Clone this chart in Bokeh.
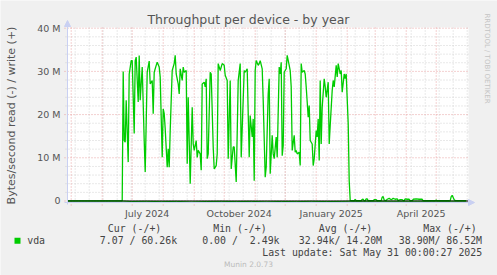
from datetime import date
import math
from bokeh.plotting import figure
from bokeh.models import FixedTicker, Label, Arrow, NormalHead, LinearAxis, Range1d
from bokeh.embed import file_html
from bokeh.resources import INLINE

# ---------------- data ----------------
BASE = date(2024, 5, 1)

write_days = [-4, 51,
    52, 53, 54, 55, 57, 58, 60, 61, 63, 64, 65, 67, 68, 69, 71, 73, 74, 76, 78, 79, 81, 82, 83, 85, 86, 88, 89,
    91, 92, 93, 94, 96, 97, 98, 99, 101, 103, 104, 105, 107, 108, 109, 111, 112, 113, 115, 116, 117, 119,
    121, 122, 123, 125, 126, 127, 129, 130, 131, 133, 134, 135, 136, 137, 139, 140, 142, 143, 145, 146, 147,
    149, 151, 153, 154, 156, 157, 159, 160, 162, 163, 165, 166, 167, 169,
    170, 173, 174, 176, 178, 179, 181, 182, 183, 184, 185, 187, 188, 189, 191, 192, 194, 195, 197, 198, 199,
    201, 202, 203, 205, 206, 208, 209, 210, 211, 212, 213, 215, 216, 218, 219, 220, 221, 223, 224, 225, 226,
    228, 229, 230, 231, 233, 234, 235, 237, 238, 239, 241, 242, 243, 245, 246, 247, 248, 249, 250, 251, 253,
    254, 255, 257, 258, 259, 261, 262, 263, 265, 266, 267, 269, 270, 271, 273, 274, 275, 277, 278, 279,
    283, 284, 285, 290, 291, 292, 293, 294, 295, 296, 297, 302, 303, 305, 306, 310, 311, 312, 313, 315, 316,
    318, 320, 322, 324, 326, 327, 329, 331, 332, 333, 334, 336, 338, 339, 341, 342, 345, 348, 351, 352,
    364, 365, 366, 378, 379, 380, 381, 382, 383, 384, 395]
write_mb = [0.02, 0.02,
    30.0, 14.0, 13.6, 23.3, 9.0, 29.4, 32.5, 32.5, 15.6, 32.5, 33.3, 22.9, 33.7, 23.3, 31.0, 14.0, 6.7, 29.8, 32.4, 27.1, 27.9, 20.2, 29.8, 31.4, 32.1, 31.0, 28.7,
    10.1, 21.3, 20.2, 16.7, 7.8, 12.1, 7.8, 16.3, 30.2, 31.8, 33.7, 29.4, 27.1, 24.8, 30.6, 27.9, 31.0, 29.8, 30.2, 8.6, 24.0, 4.0,
    21.7, 13.2, 11.7, 14.0, 10.1, 11.7, 10.9, 7.1, 27.1, 27.5, 26.4, 28.3, 9.8, 10.9, 29.8, 29.4, 12.5, 7.4, 8.2, 10.9, 31.8,
    30.2, 31.8, 31.4, 29.1, 27.9, 9.8, 27.9, 7.4, 12.5, 12.5, 4.4, 15.6, 27.9, 31.8,
    10.1, 30.2, 29.8, 30.6, 10.1, 19.8, 14.8, 19.0, 4.7, 30.2, 32.5, 31.4, 31.8, 32.5, 30.6, 23.3, 5.5, 7.8, 24.8, 28.3, 6.3,
    15.2, 10.9, 9.8, 14.8, 10.1, 31.0, 29.4, 32.1, 10.5, 12.8, 29.8, 30.6, 33.7, 31.4, 30.2, 26.4, 11.7, 15.2, 11.3, 11.7, 10.9,
    11.3, 8.2, 31.8, 29.8, 30.2, 29.4, 26.4, 19.4, 22.1, 14.0, 13.2, 8.2, 9.8, 16.3, 14.8, 19.0, 9.4, 27.9, 13.2, 21.7, 28.3,
    26.4, 24.0, 27.5, 13.2, 17.5, 25.6, 27.9, 26.4, 31.4, 28.7, 31.8, 29.4, 30.2, 25.2, 29.4, 28.3, 29.4, 17.9, 4.7, 0.1,
    0.05, 0.35, 0.05, 0.05, 0.35, 0.4, 0.05, 0.05, 0.5, 0.5, 0.05, 0.05, 0.3, 0.3, 0.05, 0.1, 0.9, 1.0, 0.2, 0.1, 0.4,
    0.6, 0.3, 0.6, 0.4, 0.5, 0.1, 0.3, 0.3, 0.1, 0.1, 0.5, 0.4, 0.4, 0.05, 0.05, 0.4, 0.5, 0.4, 0.4, 0.05,
    0.05, 0.2, 0.05, 0.05, 0.1, 1.0, 1.3, 0.8, 0.3, 0.1, 0.06]

read_days = [-4, 20, 51, 60, 75, 90, 105, 120, 135, 150, 165, 180, 195, 210, 225, 240, 255, 270, 279,
             300, 320, 340, 360, 380, 395]
read_mb = [0.0, 0.0, 0.01, 0.12, 0.08, 0.15, 0.1, 0.2, 0.12, 0.09, 0.14, 0.1, 0.18, 0.11, 0.15, 0.08,
           0.13, 0.1, 0.05, 0.04, 0.06, 0.05, 0.03, 0.04, 0.0]

month_starts = ["2024-05-01", "2024-06-01", "2024-07-01", "2024-08-01", "2024-09-01", "2024-10-01",
                "2024-11-01", "2024-12-01", "2025-01-01", "2025-02-01", "2025-03-01", "2025-04-01",
                "2025-05-01"]
label_months = ["2024-07-01", "2024-10-01", "2025-01-01", "2025-04-01"]
label_texts = ["July 2024", "October 2024", "January 2025", "April 2025"]

y_ticks = [0, 10, 20, 30, 40]
y_tick_labels = ["0", "10 M", "20 M", "30 M", "40 M"]

title_text = "Throughput per device - by year"
y_label_text = "Bytes/second read (-) / write (+)"
legend_headers = ["Cur (-/+)", "Min (-/+)", "Avg (-/+)", "Max (-/+)"]
series_name = "vda"
legend_values = ["7.07 / 60.26k", "0.00 /", "2.49k", "32.94k/ 14.20M", "38.90M/ 86.52M"]
last_update = "Last update: Sat May 31 00:00:27 2025"
munin_version = "Munin 2.0.73"
watermark = "RRDTOOL / TOBI OETIKER"

# ---------------- layout ----------------
W, H = 497, 275
FL, FR, FT, FB = 67, 468, 27, 202          # plot-area pixel box inside the canvas
X0, X1 = -3.7, 397.3                        # days since 2024-05-01 shown in the plot area
Y0, Y1 = -0.35, 40.16                       # MB/s shown in the plot area
SX = (X1 - X0) / (FR - FL)
SY = (Y1 - Y0) / (FB - FT)

def dx(px):
    return X0 + (px - FL) * SX

def dy(py):
    return Y0 + (FB - py) * SY

def dnum(s):
    return (date.fromisoformat(s) - BASE).days

GREEN = "#00CC00"
AXIS = "#C9D0F2"
MGRID = "#E8A2A2"
GRID = "#D2D2D2"
FONT_COLOR = "#555555"

p = figure(width=W, height=H, output_backend="svg", toolbar_location=None,
           x_range=Range1d(dx(0), dx(W)), y_range=Range1d(dy(H), dy(0)),
           x_axis_type=None, y_axis_type=None, min_border=0,
           min_border_left=0, min_border_right=0, min_border_top=0, min_border_bottom=0)
p.title.visible = False
p.background_fill_color = "#F0F0F0"
p.border_fill_color = "#F0F0F0"
p.outline_line_color = None

# white canvas (plot area)
p.quad(left=[X0], right=[X1], bottom=[Y0], top=[Y1], fill_color="#FFFFFF", line_color=None)

# grid lines
biweekly = list(range(dnum("2024-05-05"), int(X1) + 1, 14))
month_days = [dnum(s) for s in month_starts]
y_minor = [v for v in range(0, 41, 2) if v % 10 != 0]
p.segment(x0=biweekly, y0=[Y0] * len(biweekly), x1=biweekly, y1=[Y1] * len(biweekly),
          line_color=GRID, line_dash="1 2", line_width=1)
p.segment(x0=[dx(65)] * len(y_minor), y0=y_minor, x1=[X1] * len(y_minor), y1=y_minor,
          line_color=GRID, line_dash="1 2", line_width=1)
p.segment(x0=month_days, y0=[dy(205)] * len(month_days), x1=month_days, y1=[Y1] * len(month_days),
          line_color=MGRID, line_dash="1 2", line_width=1)
p.segment(x0=[dx(64)] * len(y_ticks), y0=y_ticks, x1=[X1] * len(y_ticks), y1=y_ticks,
          line_color=MGRID, line_dash="1 2", line_width=1)

# axes (fixed at the plot-area edges)
label_ticks = [dnum(s) + 15 for s in label_months]
xaxis = LinearAxis(fixed_location=Y0, bounds=(X0, X1),
                   ticker=FixedTicker(ticks=label_ticks),
                   major_label_overrides={t: l for t, l in zip(label_ticks, label_texts)},
                   axis_line_color=None, major_tick_line_color=None, minor_tick_line_color=None,
                   major_tick_out=0, major_tick_in=0, minor_tick_out=0, minor_tick_in=0,
                   major_label_standoff=5,
                   major_label_text_font="DejaVu Sans", major_label_text_font_size="9.5px",
                   major_label_text_color=FONT_COLOR)
p.add_layout(xaxis, "below")
yaxis = LinearAxis(fixed_location=X0, bounds=(Y0, Y1),
                   ticker=FixedTicker(ticks=y_ticks),
                   major_label_overrides={t: l for t, l in zip(y_ticks, y_tick_labels)},
                   axis_line_color=None, major_tick_line_color=None, minor_tick_line_color=None,
                   major_tick_out=0, major_tick_in=0, minor_tick_out=0, minor_tick_in=0,
                   major_label_standoff=7,
                   major_label_text_font="DejaVu Sans", major_label_text_font_size="9.5px",
                   major_label_text_color=FONT_COLOR)
p.add_layout(yaxis, "left")

# series
p.line(read_days, [-v for v in read_mb], line_color=GREEN, line_width=1)
p.line(write_days, write_mb, line_color=GREEN, line_width=1.3)
p.segment(x0=[X0], y0=[0], x1=[X1], y1=[0], line_color="#000000", line_width=1)

# axis arrows
p.add_layout(Arrow(end=NormalHead(size=6, fill_color=AXIS, line_color=AXIS),
                   x_start=X0, y_start=dy(204), x_end=X0, y_end=dy(20),
                   line_color=AXIS, line_width=1))
p.add_layout(Arrow(end=NormalHead(size=6, fill_color=AXIS, line_color=AXIS),
                   x_start=dx(64), y_start=Y0, x_end=dx(474), y_end=Y0,
                   line_color=AXIS, line_width=1))

# texts
def lab(text, px, py, size, color, font="DejaVu Sans", align="left", angle=0.0, baseline="middle"):
    p.add_layout(Label(x=dx(px), y=dy(py), text=text, text_font=font, text_font_size=size,
                       text_color=color, text_align=align, text_baseline=baseline, angle=angle))

lab(title_text, 248, 18.5, "12.5px", FONT_COLOR, align="center")
lab(y_label_text, 10.5, 115, "11px", FONT_COLOR, align="center", angle=math.pi / 2)
lab(watermark, 486, 13, "7px", "#C4C4C4", align="left", angle=-math.pi / 2)

MONO = "DejaVu Sans Mono"
LSZ = "9.9px"
LCOL = "#444444"
for txt, px in zip(legend_headers, [107.3, 212.7, 318.3, 422.7]):
    lab(txt, px, 227.5, LSZ, LCOL, font=MONO)
lab(series_name, 26.7, 240.3, LSZ, LCOL, font=MONO)
for txt, px in zip(legend_values, [99.3, 201.7, 249.3, 298.3, 398.3]):
    lab(txt, px, 240.3, LSZ, LCOL, font=MONO)
lab(last_update, 261.7, 252.3, LSZ, LCOL, font=MONO)
lab(munin_version, 248, 264, "7.5px", "#BBBBBB", align="center")

# legend swatch
p.quad(left=[dx(14)], right=[dx(20)], bottom=[dy(243.3)], top=[dy(237.3)],
       fill_color=GREEN, line_color=None)

open("out.html", "w").write(file_html(p, INLINE))
